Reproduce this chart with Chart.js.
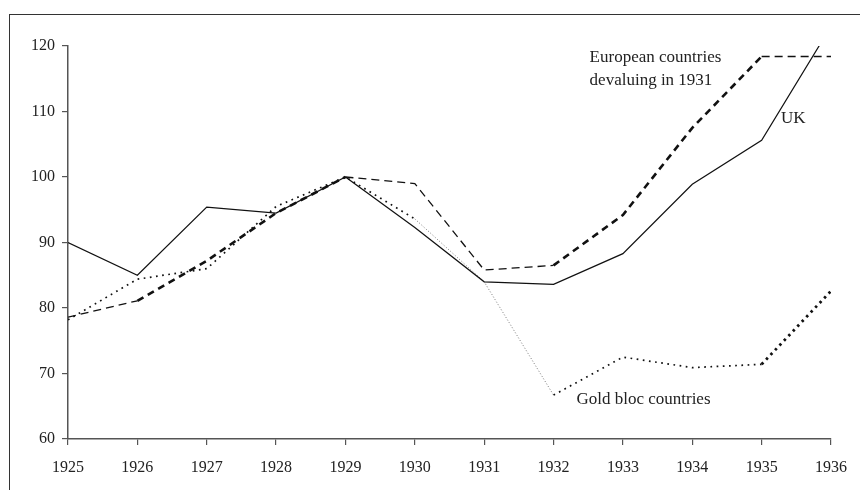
<!DOCTYPE html>
<html>
<head>
<meta charset="utf-8">
<script src="https://cdn.jsdelivr.net/npm/chart.js@4"></script>
<style>
    html, body { margin: 0; padding: 0; background: #fff; overflow: hidden; }
    #wrap { position: relative; width: 860px; height: 490px; }
    #frame { position: absolute; left: 9px; top: 14px; width: 900px; height: 520px; border: 1.6px solid #333; box-sizing: border-box; pointer-events: none; }
    canvas { position: absolute; left: 0; top: 0; }
</style>
</head>
<body>
<div id="wrap">
    <div id="frame"></div>
    <canvas id="chart" width="860" height="490"></canvas>
</div>
<script>
// Index, 1929 = 100
const years = [1925, 1926, 1927, 1928, 1929, 1930, 1931, 1932, 1933, 1934, 1935, 1936];
const ukValues = [90, 85, 95.4, 94.5, 100, 92.3, 84, 83.6, 88.3, 98.9, 105.6, 123];
const devaluersValues = [78.6, 81.1, 87.2, 94.5, 100, 99, 85.8, 86.5, 94.2, 107.5, 118.4, 118.4];
const goldBlocValues = [78.2, 84.4, 86, 95.5, 100, 93.6, 84, 66.7, 72.5, 70.9, 71.4, 82.6];
const yTicks = [60, 70, 80, 90, 100, 110, 120];

// line labels placed in data units
const annotations = [
    { lines: ['European countries', 'devaluing in 1931'], x: 1932.52, y: 118.3, step: 3.5 },
    { lines: ['UK'], x: 1935.28, y: 109, step: 0 },
    { lines: ['Gold bloc countries'], x: 1932.33, y: 66.0, step: 0 }
];

const SERIF = '"Liberation Serif", "DejaVu Serif", serif';

function toPoints(values) {
    return years.map((yr, i) => ({ x: yr, y: values[i] }));
}

// segment styling (index of segment start)
const devThick = new Set([1, 2, 3, 7, 8, 9]);
const goldThin = new Set([5, 6]);
const goldHeavy = new Set([10]);

const labelPlugin = {
    id: 'lineLabels',
    afterDatasetsDraw(chart) {
        const { ctx, scales } = chart;
        ctx.save();
        ctx.font = '17px ' + SERIF;
        ctx.fillStyle = '#222';
        ctx.textAlign = 'left';
        ctx.textBaseline = 'middle';
        annotations.forEach(a => {
            a.lines.forEach((txt, i) => {
                const px = scales.x.getPixelForValue(a.x);
                const py = scales.y.getPixelForValue(a.y - i * a.step);
                ctx.fillText(txt, px, py);
            });
        });
        ctx.restore();
    }
};

const chart = new Chart(document.getElementById('chart'), {
    type: 'line',
    data: {
        datasets: [
            {
                label: 'UK',
                data: toPoints(ukValues),
                borderColor: '#111',
                borderWidth: 1.2,
                pointRadius: 0
            },
            {
                label: 'European countries devaluing in 1931',
                data: toPoints(devaluersValues),
                borderColor: '#111',
                borderWidth: 1.3,
                borderDash: [8, 5],
                pointRadius: 0,
                segment: {
                    borderWidth: c => devThick.has(c.p0DataIndex) ? 2.6 : 1.3,
                    borderDash: c => devThick.has(c.p0DataIndex) ? [7, 5] : [8, 5]
                }
            },
            {
                label: 'Gold bloc countries',
                data: toPoints(goldBlocValues),
                borderColor: '#111',
                borderWidth: 1.7,
                borderDash: [1.7, 4.5],
                pointRadius: 0,
                segment: {
                    borderColor: c => goldThin.has(c.p0DataIndex) ? '#777' : '#111',
                    borderWidth: c => goldThin.has(c.p0DataIndex) ? 1 : (goldHeavy.has(c.p0DataIndex) ? 2.8 : 1.7),
                    borderDash: c => goldThin.has(c.p0DataIndex) ? [1, 2] : (goldHeavy.has(c.p0DataIndex) ? [2.5, 4] : [1.7, 4.5])
                }
            }
        ]
    },
    options: {
        responsive: false,
        animation: false,
        layout: { padding: { top: 46, right: 28, left: 0, bottom: 0 } },
        plugins: {
            legend: { display: false },
            tooltip: { enabled: false }
        },
        scales: {
            x: {
                type: 'linear',
                min: 1925,
                max: 1936,
                afterFit: s => { s.height = 51; },
                afterBuildTicks: s => { s.ticks = years.map(v => ({ value: v })); },
                grid: { display: true, drawOnChartArea: false, drawTicks: true, tickLength: 6, color: '#555', lineWidth: 1.2 },
                border: { display: true, color: '#555', width: 1.5 },
                ticks: {
                    color: '#222',
                    font: { family: SERIF, size: 16 },
                    padding: 13,
                    maxRotation: 0,
                    autoSkip: false,
                    callback: v => String(v)
                }
            },
            y: {
                min: 60,
                max: 120,
                afterFit: s => { s.width = 68; },
                afterBuildTicks: s => { s.ticks = yTicks.map(v => ({ value: v })); },
                grid: { display: true, drawOnChartArea: false, drawTicks: true, tickLength: 6, color: '#555', lineWidth: 1.2 },
                border: { display: true, color: '#555', width: 1.5 },
                ticks: {
                    color: '#222',
                    font: { family: SERIF, size: 16 },
                    padding: 7,
                    callback: v => String(v)
                }
            }
        }
    },
    plugins: [labelPlugin]
});
</script>
</body>
</html>
